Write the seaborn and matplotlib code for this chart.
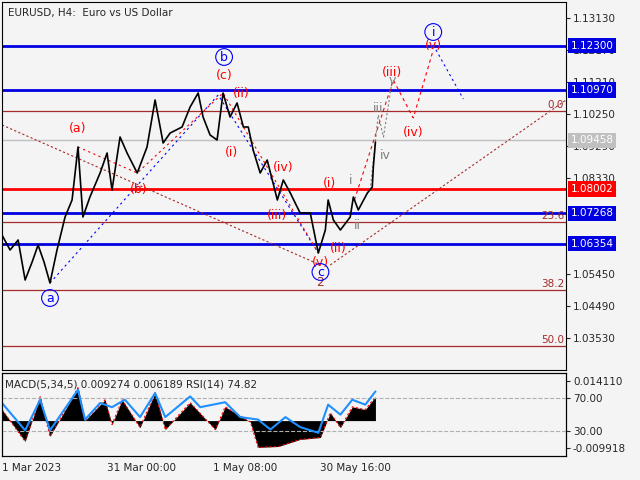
import matplotlib
matplotlib.use("Agg")
import matplotlib.pyplot as plt
import seaborn as sns
import pandas as pd

sns.set_style("white")
plt.rcParams['font.family'] = ['DejaVu Sans']

# price path (days since 1 Mar 2023, price)
price_days = [0, 2.3, 4.6, 6.6, 8.6, 10.3, 12.0, 13.7, 15.7, 18.0, 20.0, 21.7, 23.1, 25.1, 28.0, 30.0, 31.4,
              33.7, 35.7, 38.6, 41.4, 43.7, 46.0, 48.0, 51.4, 53.7, 56.0, 57.4, 59.4, 61.4, 63.1, 65.1, 67.1,
              68.9, 70.3, 71.7, 73.7, 75.7, 78.6, 80.3, 82.3, 85.1, 88.0, 90.3, 92.3, 93.1, 94.6, 96.6, 99.4,
              100.3, 101.7, 104.3, 105.7, 106.0, 106.6]
price_vals = [1.0662, 1.0617, 1.0647, 1.0527, 1.0581, 1.0632, 1.0581, 1.0518, 1.0617, 1.0716, 1.0767, 1.0926,
              1.0716, 1.0776, 1.0848, 1.0908, 1.0797, 1.0956, 1.0908, 1.0848, 1.0926, 1.1067, 1.0938, 1.0968,
              1.0986, 1.1046, 1.1088, 1.1016, 1.0962, 1.0947, 1.1088, 1.1016, 1.1058, 1.0986, 1.0986, 1.0917,
              1.0848, 1.0887, 1.0767, 1.0827, 1.0788, 1.0728, 1.0728, 1.0608, 1.0677, 1.0767, 1.0707, 1.0677,
              1.0716, 1.0776, 1.0737, 1.0788, 1.0806, 1.0866, 1.0941]

blue_levels = [1.12300, 1.10970, 1.07268, 1.06354]
red_level = 1.08002
grey_level = 1.09458
fib_levels = [1.1034, 1.0701, 1.0497, 1.0329]
fib_names = ["0.0", "23.6", "38.2", "50.0"]
price_ticks = [1.13130, 1.12170, 1.11210, 1.10250, 1.09290, 1.08330, 1.05450, 1.04490, 1.03530]

wave_labels = [
    ("(a)", 21.7, 1.0983, "red"), ("(b)", 38.9, 1.0797, "red"), ("(c)", 63.4, 1.1142, "red"),
    ("(ii)", 68.3, 1.1088, "red"), ("(i)", 65.4, 1.0911, "red"), ("(iv)", 80.3, 1.0866, "red"),
    ("(iii)", 78.6, 1.0719, "red"), ("(i)", 93.4, 1.0818, "red"), ("(ii)", 96.0, 1.0623, "red"),
    ("(v)", 90.9, 1.0581, "red"), ("(iii)", 111.4, 1.1151, "red"), ("(iv)", 117.4, 1.0971, "red"),
    ("(v)", 123.1, 1.1232, "red"), ("2", 90.9, 1.0518, "#a52a2a"),
    ("i", 99.4, 1.0827, "grey"), ("ii", 101.4, 1.0692, "grey"), ("iii", 107.4, 1.1043, "grey"),
    ("iv", 109.4, 1.0902, "grey"), ("v", 111.4, 1.1127, "grey"),
]
circle_labels = [("a", 13.7, 1.0473), ("b", 63.4, 1.1196), ("c", 90.9, 1.0551), ("i", 123.1, 1.1271)]

blue_path_d = [13.7, 61.7, 90.3]; blue_path_p = [1.0518, 1.1082, 1.0608]
blue_path2_d = [123.1, 131.7]; blue_path2_p = [1.1232, 1.1070]
red_path_d = [100.6, 111.7, 117.4, 123.1]; red_path_p = [1.0767, 1.1127, 1.1013, 1.1217]
red_path2_d = [21.7, 38.6, 63.1, 68.9, 90.3]; red_path2_p = [1.0926, 1.0848, 1.1088, 1.0986, 1.0608]
grey_path_d = [105.1, 107.4, 108.9, 111.4]; grey_path_p = [1.0797, 1.1022, 1.0956, 1.1127]
brown_path_d = [0, 90.9]; brown_path_p = [1.0992, 1.0572]
brown_path2_d = [93.7, 161]; brown_path2_p = [1.0572, 1.1067]

ind_days = [0, 6.6, 10.9, 13.7, 21.7, 23.7, 29.4, 31.4, 34.3, 39.4, 43.7, 46.6, 53.7, 60.9, 63.7, 70.9,
            73.1, 78.9, 85.1, 90.9, 93.7, 96.6, 100.0, 103.7, 106.6]
macd_vals = [0.0039, -0.0074, 0.0085, -0.0056, 0.0117, 0.0, 0.0074, -0.0014, 0.0074, -0.0025, 0.0099,
             -0.0032, 0.0064, -0.0032, 0.0049, -0.0005, -0.0095, -0.0092, -0.0067, -0.0060, 0.0028,
             -0.0025, 0.0049, 0.0039, 0.0085]
rsi_days = [0, 6.6, 10.9, 13.7, 21.7, 23.7, 28.0, 31.4, 35.1, 39.4, 43.7, 46.6, 53.7, 56.6, 63.7, 68.0,
            73.1, 76.6, 80.9, 85.1, 90.3, 93.1, 96.6, 100.0, 103.7, 106.6]
rsi_vals = [64, 31, 68, 31, 80, 44, 64, 59, 68, 47, 76, 47, 72, 59, 65, 47, 44, 32, 47, 35, 28, 62, 50, 68, 62, 78]

bg = "#f4f4f4"
fig = plt.figure(figsize=(6.4, 4.8), dpi=100, facecolor=bg)
ax = fig.add_axes([2/640, 1-370/480, 564/640, 368/480], facecolor=bg)
axi = fig.add_axes([2/640, 1-456/480, 564/640, 83/480], facecolor=bg)

XMAX = 161
ax.set_xlim(0, XMAX); ax.set_ylim(1.0257, 1.1361)
for lv in fib_levels:
    ax.axhline(lv, color="#a52a2a", lw=0.9, zorder=1)
for lv, nm in zip(fib_levels, fib_names):
    ax.text(XMAX - 0.5, lv + 0.0003, nm, color="#a52a2a", ha="right", va="bottom", fontsize=7.5)
ax.axhline(grey_level, color="#c0c0c0", lw=1, zorder=1)
ax.axhline(red_level, color="red", lw=2, zorder=1)
for lv in blue_levels:
    ax.axhline(lv, color="#0000e0", lw=2, zorder=1)

df = pd.DataFrame({"day": price_days, "price": price_vals})
sns.lineplot(data=df, x="day", y="price", ax=ax, color="black", lw=1.2, zorder=3)

ax.plot(blue_path_d, blue_path_p, ls=(0, (2, 3)), color="blue", lw=0.8)
ax.plot(blue_path2_d, blue_path2_p, ls=(0, (2, 3)), color="blue", lw=0.8)
ax.plot(red_path_d, red_path_p, ls=(0, (3, 3)), color="red", lw=0.8)
ax.plot(red_path2_d, red_path2_p, ls=(0, (2, 3)), color="red", lw=0.8)
ax.plot(grey_path_d, grey_path_p, ls=(0, (2, 2)), color="grey", lw=0.8)
ax.plot(brown_path_d, brown_path_p, ls=(0, (2, 2)), color="#a52a2a", lw=0.8)
ax.plot(brown_path2_d, brown_path2_p, ls=(0, (2, 2)), color="#a52a2a", lw=0.8)

for t, d, p, c in wave_labels:
    ax.text(d, p, t, color=c, ha="center", va="center", fontsize=9, zorder=5)
for t, d, p in circle_labels:
    ax.text(d, p, t, color="blue", ha="center", va="center", fontsize=9, zorder=5,
            bbox=dict(boxstyle="circle,pad=0.15", fc="none", ec="blue", lw=0.8))

ax.text(0.01, 0.985, "EURUSD, H4:  Euro vs US Dollar", transform=ax.transAxes, fontsize=7.5, va="top")

ax.yaxis.tick_right()
ax.set_yticks(price_ticks)
ax.set_yticklabels([f"{v:.5f}" for v in price_ticks], fontsize=7.5)
ax.tick_params(axis="y", length=3, pad=2, direction="out", right=True)
ax.set_xticks([]); ax.set_xlabel(""); ax.set_ylabel("")
boxes = [(v, "#0000e0", "white") for v in blue_levels] + [(red_level, "red", "white"), (grey_level, "#c0c0c0", "white")]
for v, fc, tc in boxes:
    ax.text(1.008, v, f"{v:.5f}", transform=ax.get_yaxis_transform(), color=tc, fontsize=7.5,
            va="center", ha="left", zorder=10, clip_on=False,
            bbox=dict(boxstyle="square,pad=0.25", fc=fc, ec="none"))
for s in ax.spines.values():
    s.set_color("black"); s.set_linewidth(0.8)

# indicator panel
axi.set_xlim(0, XMAX); axi.set_ylim(-0.01259, 0.01693)
axi.fill_between(ind_days, macd_vals, 0, color="black", lw=0)
axi.plot(ind_days, macd_vals, color="red", ls=(0, (2, 2)), lw=0.8)
axr = axi.twinx()
axr.set_ylim(0, 100.3)
axr.axhline(70, color="#b0b0b0", ls="--", lw=0.8)
axr.axhline(30, color="#b0b0b0", ls="--", lw=0.8)
rdf = pd.DataFrame({"day": rsi_days, "rsi": rsi_vals})
sns.lineplot(data=rdf, x="day", y="rsi", ax=axr, color="#1e90ff", lw=1.5)
axr.set_yticks([70, 30]); axr.set_yticklabels(["70.00", "30.00"], fontsize=7.5)
axr.set_ylabel(""); axr.set_xlabel("")
axi.yaxis.tick_right()
axi.set_yticks([0.014110, -0.009918]); axi.set_yticklabels(["0.014110", "-0.009918"], fontsize=7.5)
axi.text(0.005, 0.92, "MACD(5,34,5) 0.009274 0.006189 RSI(14) 74.82", transform=axi.transAxes, fontsize=7.5, va="top")
axi.set_xticks([0, 30, 60.33, 90.67])
axi.set_xticklabels(["1 Mar 2023", "31 Mar 00:00", "1 May 08:00", "30 May 16:00"], fontsize=7.5, ha="left")
axi.tick_params(axis="x", length=3, pad=2)
for a in (axi, axr):
    a.tick_params(axis="y", length=3, pad=2)
    for s in a.spines.values():
        s.set_color("black"); s.set_linewidth(0.8)

fig.savefig("out.png", dpi=100, facecolor=bg)
